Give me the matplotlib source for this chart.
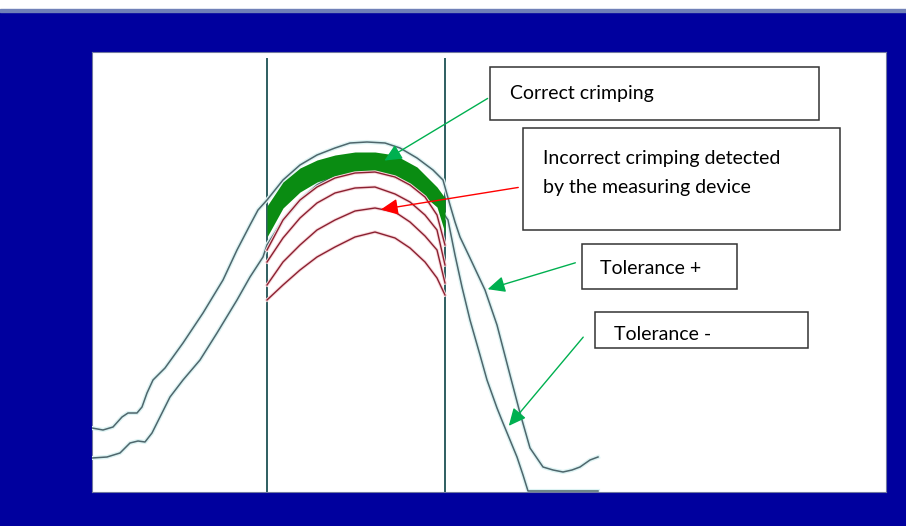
import matplotlib.pyplot as plt
import matplotlib.patheffects as pe
from matplotlib.patches import Rectangle

# position along the crimp (samples) and signal amplitude
tol_plus_x = [92, 103, 113, 122, 128, 137, 142, 147, 153, 165, 183, 203, 223, 237, 250, 258, 267, 283, 300, 317,
              335, 350, 367, 385, 400, 417, 433, 443, 450, 455, 460, 470, 485, 497, 510, 520, 530, 543, 553, 563,
              572, 580, 590, 598]
tol_plus_y = [64, 62, 65, 75, 79, 79, 85, 99, 112, 124, 149, 179, 212, 242, 267, 282, 292, 312, 327, 337,
              344, 349, 350, 349, 344, 334, 322, 312, 287, 270, 255, 234, 202, 167, 117, 79, 44, 25, 22, 20,
              22, 25, 32, 35]

tol_minus_x = [92, 107, 120, 130, 138, 145, 152, 160, 170, 183, 200, 217, 237, 250, 263, 267, 283, 300, 317, 335,
               350, 367, 385, 400, 417, 433, 448, 455, 462, 470, 480, 487, 497, 503, 510, 517, 523, 528, 598]
tol_minus_y = [34, 35, 39, 49, 51, 50, 59, 75, 95, 112, 132, 159, 192, 215, 235, 247, 272, 292, 307, 317,
               322, 324, 322, 317, 307, 294, 272, 237, 205, 172, 137, 112, 84, 69, 52, 35, 17, 1, 1]

band_x = [267, 283, 300, 317, 335, 355, 375, 395, 417, 437, 445]
band_top = [286, 310, 324, 332, 337, 340, 340, 337, 325, 305, 294]
band_bottom = [255, 284, 300, 310, 316, 320, 320, 314, 302, 285, 259]

bad_x = [267, 283, 300, 317, 335, 355, 375, 395, 410, 425, 437, 445]
bad_curves = [
    [242, 272, 292, 305, 314, 319, 320, 315, 307, 295, 277, 247],
    [230, 254, 274, 289, 299, 304, 305, 298, 290, 277, 262, 227],
    [207, 230, 247, 262, 272, 281, 284, 280, 270, 256, 242, 209],
    [192, 207, 222, 235, 245, 255, 260, 254, 244, 230, 214, 197],
]

window = [267, 445]

fig = plt.figure(figsize=(9.06, 5.26), dpi=100)
fig.patch.set_facecolor('white')
fig.patches.append(Rectangle((0, 0), 1, 1 - 11 / 526, transform=fig.transFigure, color='#00009E', zorder=-5))
fig.patches.append(Rectangle((0, 1 - 12 / 526), 1, 3 / 526, transform=fig.transFigure, color='#7080B8', zorder=-5))

ax = fig.add_axes([92 / 906, 34 / 526, 794 / 906, 440 / 526])
ax.set_zorder(2)
ax.set_facecolor('white')
ax.set_xlim(92, 886)
ax.set_ylim(0, 440)
ax.set_xticks([])
ax.set_yticks([])
for s in ax.spines.values():
    s.set_color('#7078A0')
    s.set_linewidth(0.8)

for wx in window:
    ax.axvline(wx, ymax=0.985, color='#2E5E60', lw=1.4, zorder=2)

halo_gray = [pe.Stroke(linewidth=3, foreground='#DDF3F3'), pe.Normal()]
ax.plot(tol_minus_x, tol_minus_y, color='#4E666C', lw=1.1, zorder=3, path_effects=halo_gray)
ax.plot(tol_plus_x, tol_plus_y, color='#4E666C', lw=1.1, zorder=3, path_effects=halo_gray)

ax.fill_between(band_x, band_bottom, band_top, color='#0A8C12', lw=0, zorder=4)

halo_red = [pe.Stroke(linewidth=2.4, foreground='#F8D8DC'), pe.Normal()]
for c in bad_curves:
    ax.plot(bad_x, c, color='#8A2030', lw=1.0, zorder=5, path_effects=halo_red)

font = 'Lato'
boxes = [
    # x0, x1, y0, y1
    (490, 819, 372, 425),
    (523, 840, 262, 364),
    (582, 737, 203, 248),
    (595, 808, 144, 180),
]
for x0, x1, y0, y1 in boxes:
    ax.add_patch(Rectangle((x0, y0), x1 - x0, y1 - y0, fill=False, ec='#333333', lw=1.1, zorder=6))

ax.text(510, 399, 'Correct crimping', fontsize=14, family=font, va='center', zorder=7)
ax.text(543, 342, 'Incorrect crimping detected\nby the measuring device', fontsize=14, family=font,
        va='top', linespacing=1.85, zorder=7)
ax.text(600, 224, 'Tolerance +', fontsize=14, family=font, va='center', zorder=7)
ax.text(614, 158, 'Tolerance -', fontsize=14, family=font, va='center', zorder=7)

head = '-|>,head_length=0.75,head_width=0.35'
ax.annotate('', xy=(382, 330), xytext=(490, 395),
            arrowprops=dict(arrowstyle=head, mutation_scale=14, color='#00B050', lw=1), zorder=8)
ax.annotate('', xy=(378, 282), xytext=(521, 305),
            arrowprops=dict(arrowstyle=head, mutation_scale=14, color='#FF0000', lw=1), zorder=8)
ax.annotate('', xy=(485, 202), xytext=(578, 230),
            arrowprops=dict(arrowstyle=head, mutation_scale=14, color='#00B050', lw=1), zorder=8)
ax.annotate('', xy=(507, 64), xytext=(585, 157),
            arrowprops=dict(arrowstyle=head, mutation_scale=14, color='#00B050', lw=1), zorder=8)

fig.savefig('out.png', dpi=100)
